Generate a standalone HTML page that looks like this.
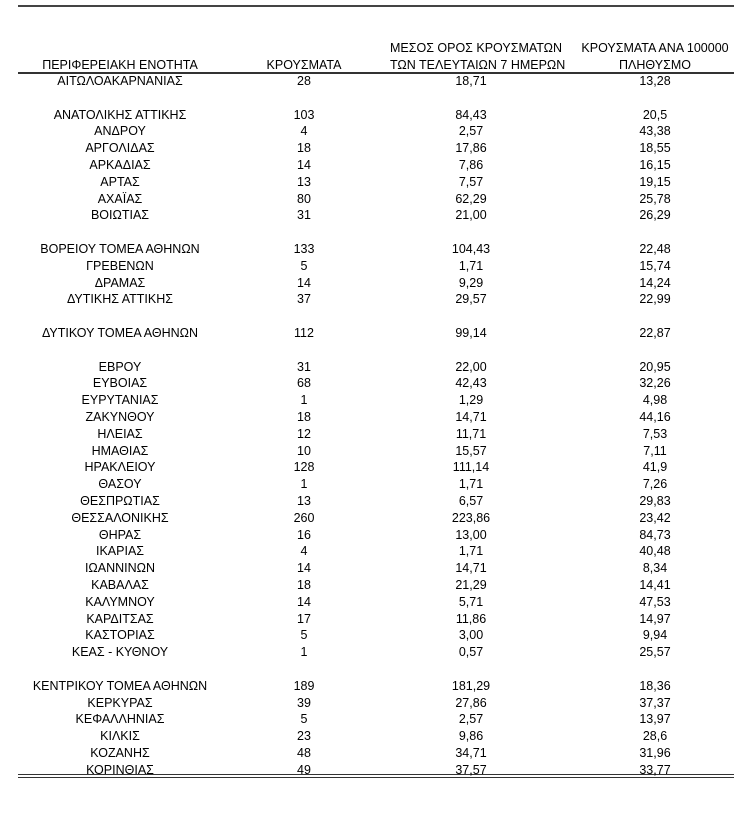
<!DOCTYPE html>
<html><head><meta charset="utf-8"><style>
body{margin:0;width:734px;height:829px;background:#fff;position:relative;overflow:hidden;font-family:"Liberation Sans","DejaVu Sans",sans-serif;font-size:12.5px;color:#000}
.t{position:absolute;text-align:center;white-space:nowrap;line-height:14px}
.c1{left:20px;width:200px}.c2{left:254px;width:100px}.c3{left:390px;width:162px}.c4{left:570px;width:170px}
.l{position:absolute;left:18px;right:0;background:#333}
</style></head><body>
<div class="l" style="top:5px;height:2px;background:#444"></div>
<div class="t c3" style="top:41px">ΜΕΣΟΣ ΟΡΟΣ ΚΡΟΥΣΜΑΤΩΝ</div>
<div class="t c4" style="top:41px">ΚΡΟΥΣΜΑΤΑ ΑΝΑ 100000</div>
<div class="t c1" style="top:58px">ΠΕΡΙΦΕΡΕΙΑΚΗ ΕΝΟΤΗΤΑ</div>
<div class="t c2" style="top:58px">ΚΡΟΥΣΜΑΤΑ</div>
<div class="t c3" style="top:58px">ΤΩΝ ΤΕΛΕΥΤΑΙΩΝ 7 ΗΜΕΡΩΝ</div>
<div class="t c4" style="top:58px">ΠΛΗΘΥΣΜΟ</div>
<div class="l" style="top:72px;height:2px"></div>
<div class="l" style="top:774px;height:1px"></div>
<div class="l" style="top:777px;height:1px"></div>
<div id="rows"></div>
<script>
var d=[["ΑΙΤΩΛΟΑΚΑΡΝΑΝΙΑΣ","28","18,71","13,28"],null,
["ΑΝΑΤΟΛΙΚΗΣ ΑΤΤΙΚΗΣ","103","84,43","20,5"],["ΑΝΔΡΟΥ","4","2,57","43,38"],["ΑΡΓΟΛΙΔΑΣ","18","17,86","18,55"],["ΑΡΚΑΔΙΑΣ","14","7,86","16,15"],["ΑΡΤΑΣ","13","7,57","19,15"],["ΑΧΑΪΑΣ","80","62,29","25,78"],["ΒΟΙΩΤΙΑΣ","31","21,00","26,29"],null,
["ΒΟΡΕΙΟΥ ΤΟΜΕΑ ΑΘΗΝΩΝ","133","104,43","22,48"],["ΓΡΕΒΕΝΩΝ","5","1,71","15,74"],["ΔΡΑΜΑΣ","14","9,29","14,24"],["ΔΥΤΙΚΗΣ ΑΤΤΙΚΗΣ","37","29,57","22,99"],null,
["ΔΥΤΙΚΟΥ ΤΟΜΕΑ ΑΘΗΝΩΝ","112","99,14","22,87"],null,
["ΕΒΡΟΥ","31","22,00","20,95"],["ΕΥΒΟΙΑΣ","68","42,43","32,26"],["ΕΥΡΥΤΑΝΙΑΣ","1","1,29","4,98"],["ΖΑΚΥΝΘΟΥ","18","14,71","44,16"],["ΗΛΕΙΑΣ","12","11,71","7,53"],["ΗΜΑΘΙΑΣ","10","15,57","7,11"],["ΗΡΑΚΛΕΙΟΥ","128","111,14","41,9"],["ΘΑΣΟΥ","1","1,71","7,26"],["ΘΕΣΠΡΩΤΙΑΣ","13","6,57","29,83"],["ΘΕΣΣΑΛΟΝΙΚΗΣ","260","223,86","23,42"],["ΘΗΡΑΣ","16","13,00","84,73"],["ΙΚΑΡΙΑΣ","4","1,71","40,48"],["ΙΩΑΝΝΙΝΩΝ","14","14,71","8,34"],["ΚΑΒΑΛΑΣ","18","21,29","14,41"],["ΚΑΛΥΜΝΟΥ","14","5,71","47,53"],["ΚΑΡΔΙΤΣΑΣ","17","11,86","14,97"],["ΚΑΣΤΟΡΙΑΣ","5","3,00","9,94"],["ΚΕΑΣ - ΚΥΘΝΟΥ","1","0,57","25,57"],null,
["ΚΕΝΤΡΙΚΟΥ ΤΟΜΕΑ ΑΘΗΝΩΝ","189","181,29","18,36"],["ΚΕΡΚΥΡΑΣ","39","27,86","37,37"],["ΚΕΦΑΛΛΗΝΙΑΣ","5","2,57","13,97"],["ΚΙΛΚΙΣ","23","9,86","28,6"],["ΚΟΖΑΝΗΣ","48","34,71","31,96"],["ΚΟΡΙΝΘΙΑΣ","49","37,57","33,77"]];
var h="";d.forEach(function(r,i){if(!r)return;var y=(74+i*16.8).toFixed(1);for(var c=0;c<4;c++)h+='<div class="t c'+(c+1)+'" style="top:'+y+'px">'+r[c]+'</div>';});
document.getElementById("rows").innerHTML=h;
</script>
</body></html>
